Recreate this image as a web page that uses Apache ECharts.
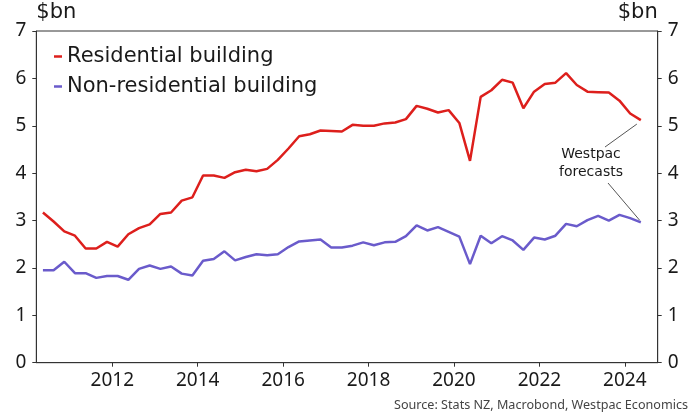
<!DOCTYPE html>
<html><head><meta charset="utf-8">
<script src="https://cdn.jsdelivr.net/npm/echarts@6/dist/echarts.min.js"></script>
<style>html,body{margin:0;padding:0;background:#fff}#c{width:697px;height:414px}</style>
</head><body><div id="c"></div>
<script>
// Quarterly data, 2010Q2 .. 2024Q2 ($bn)
const startYear = 2010, startQuarter = 2;
const residential = [3.17,2.98,2.77,2.68,2.41,2.41,2.55,2.45,2.71,2.84,2.92,3.14,3.17,3.42,3.49,3.95,3.95,3.90,4.02,4.07,4.04,4.09,4.28,4.52,4.78,4.82,4.90,4.89,4.88,5.02,5.00,5.00,5.05,5.07,5.14,5.42,5.36,5.28,5.33,5.06,4.26,5.61,5.75,5.97,5.91,5.37,5.72,5.88,5.91,6.11,5.86,5.72,5.71,5.70,5.53,5.26,5.12];
const nonResidential = [1.95,1.95,2.13,1.89,1.89,1.79,1.83,1.83,1.75,1.98,2.05,1.98,2.03,1.88,1.84,2.15,2.19,2.35,2.16,2.23,2.29,2.27,2.29,2.44,2.56,2.58,2.60,2.43,2.43,2.47,2.54,2.48,2.54,2.55,2.67,2.90,2.79,2.86,2.76,2.66,2.08,2.68,2.52,2.67,2.58,2.38,2.64,2.60,2.68,2.93,2.88,3.01,3.10,3.00,3.12,3.05,2.96];
const yearTicks = [2012,2014,2016,2018,2020,2022,2024];
const yTicks = [0,1,2,3,4,5,6,7];
const seriesNames = ['Residential building','Non-residential building'];
const annotationText = 'Westpac\nforecasts';
const sourceText = 'Source: Stats NZ, Macrobond, Westpac Economics';

// quarter labels -> mid-quarter decimal year
const quarters = residential.map((_, i) => {
  const q0 = (startQuarter - 1) + i;
  return { y: startYear + Math.floor(q0 / 4), q: (q0 % 4) + 1 };
});
const xPos = quarters.map(o => o.y + (o.q - 1) * 0.25 + 0.125);
const pairs = arr => arr.map((v, i) => [xPos[i], v]);

const FONT = 'Noto Sans';
const WIDE = 'DejaVu Sans';
const RED = '#dd1f1c', BLUE = '#6a5bcb', AX = '#333', TXT = '#1a1a1a';
const chart = echarts.init(document.getElementById('c'), null, {renderer: 'canvas'});
const yAxisBase = {
  type: 'value', min: 0, max: 7, interval: 1,
  axisLine: {show: true, lineStyle: {color: AX, width: 1}},
  axisTick: {show: true, length: 4, lineStyle: {color: AX}},
  splitLine: {show: false},
  axisLabel: {color: TXT, fontSize: 19, fontFamily: FONT, margin: 10},
  nameLocation: 'end', nameGap: 8,
};
const sourceGraphic = {type: 'text', right: 9, bottom: 2, style: {text: sourceText, fontSize: 12.6, fill: '#444', fontFamily: FONT}};
chart.setOption({
  animation: false,
  textStyle: {fontFamily: FONT},
  grid: {left: 36.3, right: 39.3, top: 31, bottom: 51.3, show: true, borderColor: AX, borderWidth: 1},
  legend: {
    orient: 'vertical', left: 49, top: 41, itemGap: 9,
    icon: 'rect', itemWidth: 8, itemHeight: 2.5,
    textStyle: {fontSize: 21, color: TXT, fontFamily: WIDE},
    data: seriesNames
  },
  xAxis: {
    type: 'value', min: 2010.22, max: 2024.77,
    axisLine: {show: true, lineStyle: {color: AX}},
    axisTick: {show: true, length: 4, customValues: yearTicks, lineStyle: {color: AX}},
    axisLabel: {customValues: yearTicks, color: TXT, fontSize: 19, fontFamily: FONT, margin: 8, formatter: v => String(Math.round(v))},
    splitLine: {show: false}
  },
  yAxis: [
    Object.assign({}, yAxisBase, {position: 'left', name: '$bn',
      nameTextStyle: {fontSize: 21, color: TXT, fontFamily: WIDE, align: 'left', verticalAlign: 'bottom'}}),
    Object.assign({}, yAxisBase, {position: 'right', name: '$bn',
      nameTextStyle: {fontSize: 21, color: TXT, fontFamily: WIDE, align: 'right', verticalAlign: 'bottom'}})
  ],
  series: [
    {name: seriesNames[0], type: 'line', data: pairs(residential), showSymbol: false, symbol: 'none',
     lineStyle: {color: RED, width: 2.5}, itemStyle: {color: RED}},
    {name: seriesNames[1], type: 'line', data: pairs(nonResidential), showSymbol: false, symbol: 'none',
     lineStyle: {color: BLUE, width: 2.5}, itemStyle: {color: BLUE}}
  ],
  graphic: [sourceGraphic]
});
// annotation: text + leader lines to last data points
const lastIdx = residential.length - 1;
const pR = chart.convertToPixel({gridIndex: 0}, [xPos[lastIdx], residential[lastIdx]]);
const pB = chart.convertToPixel({gridIndex: 0}, [xPos[lastIdx], nonResidential[lastIdx]]);
const tx = 591, ty = 163;
chart.setOption({graphic: [
  sourceGraphic,
  {type: 'text', x: tx, y: ty, style: {text: annotationText, fontSize: 14, fill: TXT, fontFamily: WIDE, align: 'center', verticalAlign: 'middle', lineHeight: 18}},
  {type: 'line', shape: {x1: tx + 14, y1: ty - 16, x2: pR[0] - 4, y2: pR[1] + 4}, style: {stroke: '#555', lineWidth: 1}},
  {type: 'line', shape: {x1: tx + 17, y1: ty + 20, x2: pB[0] - 1, y2: pB[1] - 2}, style: {stroke: '#555', lineWidth: 1}}
]});
</script></body></html>
